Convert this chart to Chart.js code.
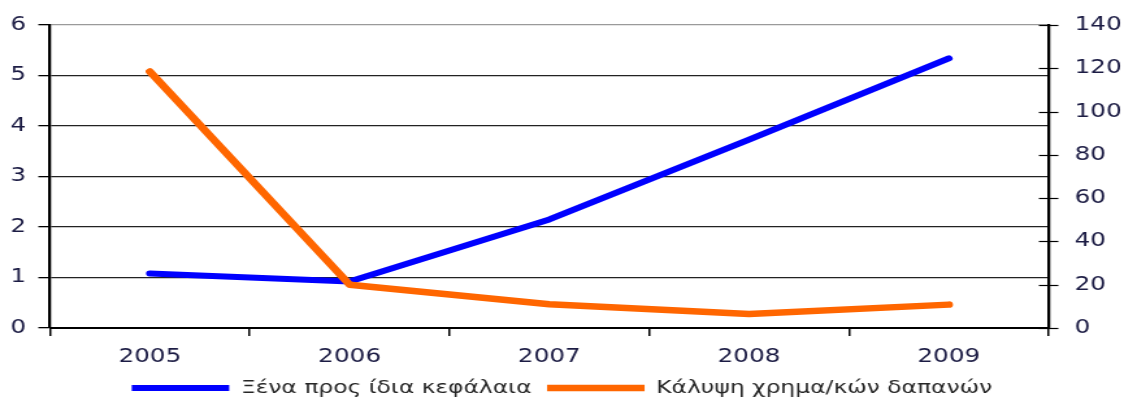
<!DOCTYPE html>
<html>
<head>
<meta charset="utf-8">
<script src="https://cdn.jsdelivr.net/npm/chart.js@4.4.1/dist/chart.umd.min.js"></script>
<style>
  html, body { margin: 0; padding: 0; background: #fff; overflow: hidden; }
  /* the chart is drawn narrow and widened, so the lettering comes out broad */
  #wrap { width: 865px; height: 399px; transform: scaleX(1.2994); transform-origin: 0 0; }
</style>
</head>
<body>
<div id="wrap"><canvas id="chart" width="865" height="399"></canvas></div>
<script>
const years = ['2005', '2006', '2007', '2008', '2009'];
const debtToEquity = [1.08, 0.92, 2.15, 3.73, 5.34];
const expenseCoverage = [118.5, 20, 11, 6.5, 10.8];
const leftTicks = { min: 0, max: 6, step: 1 };
const rightTicks = { min: 0, max: 140, step: 20 };

const tickFont = { family: 'DejaVu Sans', size: 19 };
const labelColor = '#1c1c44';

// short marks crossing the right axis line
const crossTicks = {
    id: 'crossTicks',
    afterDraw(chart) {
        const s = chart.scales.y1;
        const ctx = chart.ctx;
        ctx.save();
        ctx.strokeStyle = '#000';
        ctx.lineWidth = 1.2;
        s.ticks.forEach((t, i) => {
            const py = Math.round(s.getPixelForTick(i)) + 0.5;
            ctx.beginPath();
            ctx.moveTo(s.left - 7.5, py);
            ctx.lineTo(s.left + 7.5, py);
            ctx.stroke();
        });
        ctx.restore();
    }
};

// fixed axis width, and no extra room reserved for the end labels
function fixWidth(w) {
    return (scale) => {
        scale.width = w;
        scale.paddingTop = 0;
        scale.paddingBottom = 0;
    };
}

new Chart(document.getElementById('chart'), {
    type: 'line',
    data: {
        labels: years,
        datasets: [{
            label: 'Ξένα προς ίδια κεφάλαια',
            data: debtToEquity,
            yAxisID: 'y',
            borderColor: '#0000ff',
            backgroundColor: '#0000ff',
            borderWidth: 6,
            borderCapStyle: 'round',
            borderJoinStyle: 'round',
            pointRadius: 0,
            order: 2
        }, {
            label: 'Κάλυψη χρημα/κών δαπανών',
            data: expenseCoverage,
            yAxisID: 'y1',
            borderColor: '#ff6600',
            backgroundColor: '#ff6600',
            borderWidth: 6.5,
            borderCapStyle: 'round',
            borderJoinStyle: 'round',
            pointRadius: 0,
            order: 1
        }]
    },
    options: {
        responsive: false,
        animation: false,
        devicePixelRatio: 1,
        layout: { padding: { top: 25, left: 0, right: 0, bottom: -8 } },
        plugins: {
            tooltip: { enabled: false },
            legend: {
                position: 'bottom',
                labels: {
                    usePointStyle: true,
                    pointStyle: 'line',
                    pointStyleWidth: 75,
                    boxWidth: 75,
                    padding: 12,
                    color: '#262626',
                    font: { family: 'DejaVu Sans', size: 18 },
                    sort: (a, b) => a.datasetIndex - b.datasetIndex
                }
            }
        },
        scales: {
            x: {
                offset: true,
                grid: {
                    offset: true,
                    drawOnChartArea: false,
                    tickLength: 8,
                    tickColor: '#000',
                    lineWidth: 1.5
                },
                border: { color: '#000', width: 2 },
                ticks: { font: tickFont, color: labelColor, padding: 10 },
                afterFit: (scale) => { scale.height = 39; }
            },
            y: {
                position: 'left',
                min: leftTicks.min,
                max: leftTicks.max,
                ticks: { stepSize: leftTicks.step, font: tickFont, color: labelColor, padding: 9.5 },
                grid: {
                    color: (c) => c.tick && c.tick.value === leftTicks.max ? '#9a9a9a' : '#222',
                    lineWidth: 1.3,
                    tickLength: 9,
                    tickColor: '#000'
                },
                border: { color: '#000', width: 2.3 },
                afterFit: fixWidth(38.5)
            },
            y1: {
                position: 'right',
                min: rightTicks.min,
                max: rightTicks.max,
                ticks: { stepSize: rightTicks.step, font: tickFont, color: labelColor, padding: 20 },
                grid: { drawOnChartArea: false, drawTicks: false },
                border: { color: '#000', width: 2.3 },
                afterFit: fixWidth(58)
            }
        }
    },
    plugins: [crossTicks]
});
</script>
</body>
</html>
